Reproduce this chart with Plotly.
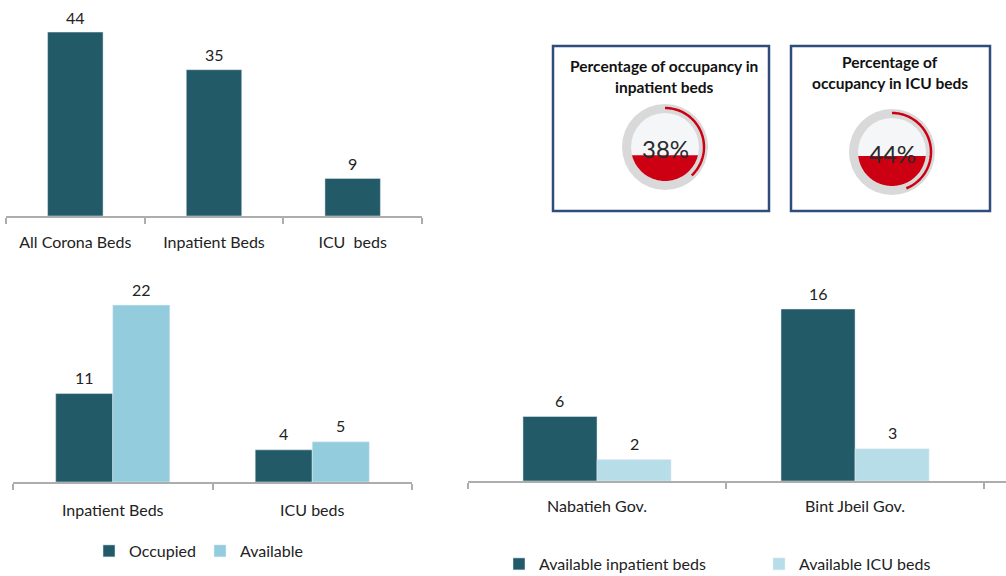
import numpy as np
import plotly.graph_objects as go

# ---------------- data ----------------
top_categories = ["All Corona Beds", "Inpatient Beds", "ICU  beds"]
top_values = [44, 35, 9]

occ_categories = ["Inpatient Beds", "ICU beds"]
occupied = [11, 4]
available = [22, 5]

gov_categories = ["Nabatieh Gov.", "Bint Jbeil Gov."]
avail_inpatient = [6, 16]
avail_icu = [2, 3]

gauge_titles = [["Percentage of occupancy in", "inpatient beds"],
                ["Percentage of", "occupancy in ICU beds"]]
gauge_pct = [38, 44]

# ---------------- style ----------------
W, H = 1006, 576
DARK = "#235A68"
LIGHT = "#93CDDD"
LIGHTER = "#B7DEE8"
RED = "#CC0012"
AXIS = "#ADADAD"
FONT = "Lato, Carlito, Calibri, sans-serif"
TXT = "#222222"
FS = 16

fig = go.Figure()

def px_x(x):
    return x / W

def px_y(y):
    return 1 - y / H

# top-left bars
fig.add_trace(go.Bar(x=top_categories, y=top_values, marker_color=DARK,
                     width=0.4, showlegend=False, xaxis="x", yaxis="y",
                     hoverinfo="x+y"))
for c, v in zip(top_categories, top_values):
    fig.add_annotation(x=c, y=v, xref="x", yref="y", text=str(v), showarrow=False,
                       xanchor="center", yanchor="middle", yshift=15,
                       font=dict(size=FS, color=TXT, family=FONT))

# bottom-left grouped bars
bw = 0.286
fig.add_trace(go.Bar(x=occ_categories, y=occupied, name="Occupied", marker_color=DARK,
                     width=bw, offset=-bw, xaxis="x2", yaxis="y2", legend="legend"))
fig.add_trace(go.Bar(x=occ_categories, y=available, name="Available", marker_color=LIGHT,
                     width=bw, offset=0, xaxis="x2", yaxis="y2", legend="legend"))
for i, c in enumerate(occ_categories):
    fig.add_annotation(x=i - bw / 2, y=occupied[i], xref="x2", yref="y2", text=str(occupied[i]),
                       showarrow=False, xanchor="center", yanchor="middle", yshift=16,
                       font=dict(size=FS, color=TXT, family=FONT))
    fig.add_annotation(x=i + bw / 2, y=available[i], xref="x2", yref="y2", text=str(available[i]),
                       showarrow=False, xanchor="center", yanchor="middle", yshift=16,
                       font=dict(size=FS, color=TXT, family=FONT))

# bottom-right grouped bars
bw2 = 0.287
fig.add_trace(go.Bar(x=gov_categories, y=avail_inpatient, name="Available inpatient beds",
                     marker_color=DARK, width=bw2, offset=-bw2, xaxis="x3", yaxis="y3",
                     legend="legend2"))
fig.add_trace(go.Bar(x=gov_categories, y=avail_icu, name="Available ICU beds",
                     marker_color=LIGHTER, width=bw2, offset=0, xaxis="x3", yaxis="y3",
                     legend="legend2"))
for i, c in enumerate(gov_categories):
    fig.add_annotation(x=i - bw2 / 2, y=avail_inpatient[i], xref="x3", yref="y3",
                       text=str(avail_inpatient[i]), showarrow=False, xanchor="center",
                       yanchor="middle", yshift=16, font=dict(size=FS, color=TXT, family=FONT))
    fig.add_annotation(x=i + bw2 / 2, y=avail_icu[i], xref="x3", yref="y3",
                       text=str(avail_icu[i]), showarrow=False, xanchor="center",
                       yanchor="middle", yshift=16, font=dict(size=FS, color=TXT, family=FONT))

xcommon = dict(type="category", showline=True, linecolor=AXIS, linewidth=1.5,
               ticks="outside", ticklen=6, tickcolor=AXIS, tickwidth=1.5,
               tickson="boundaries", showgrid=False, zeroline=False,
               tickfont=dict(size=FS, color=TXT, family=FONT), fixedrange=True)
ycommon = dict(visible=False, showgrid=False, zeroline=False, fixedrange=True)

fig.update_layout(
    xaxis=dict(xcommon, domain=[px_x(6), px_x(422)], range=[-0.5, 2.5], anchor="y",
               ticklabelstandoff=11),
    yaxis=dict(ycommon, domain=[px_y(216), px_y(7)], range=[0, 50], anchor="x"),
    xaxis2=dict(xcommon, domain=[px_x(13), px_x(412)], range=[-0.5, 1.5], anchor="y2",
                ticklabelstandoff=13),
    yaxis2=dict(ycommon, domain=[px_y(482), px_y(281)], range=[0, 25], anchor="x2"),
    xaxis3=dict(xcommon, domain=[px_x(468), 1.0], range=[-0.5, 1.585], anchor="y3",
                ticklabelstandoff=10),
    yaxis3=dict(ycommon, domain=[px_y(481), px_y(287.5)], range=[0, 18], anchor="x3"),
)

# ---------------- gauge cards (pixel positions converted to paper) ----------------
cards = [dict(x0=553, x1=769, y0=46, y1=211, cx=665, cy=147, tx=664, ty=[66, 87]),
         dict(x0=791, x1=990, y0=46, y1=211, cx=892, cy=152, tx=890, ty=[62, 83])]
R_OUT, R_IN, R_ARC = 43, 34, 39
shapes = []

def P(x, y):
    return px_x(x), px_y(y)

for card, titles, pct in zip(cards, gauge_titles, gauge_pct):
    x0, y0 = P(card["x0"], card["y0"])
    x1, y1 = P(card["x1"], card["y1"])
    shapes.append(dict(type="rect", xref="paper", yref="paper", x0=x0, x1=x1, y0=y0, y1=y1,
                       line=dict(color="#2E4C7C", width=2.5), fillcolor="rgba(0,0,0,0)"))
    cx, cy = card["cx"], card["cy"]
    for r, col in ((R_OUT, "#D9D9D9"), (R_IN, "#F4F6F8")):
        a, b = P(cx - r, cy - r)
        c, d = P(cx + r, cy + r)
        shapes.append(dict(type="circle", xref="paper", yref="paper", x0=a, x1=c, y0=d, y1=b,
                           line=dict(width=0), fillcolor=col))
    # liquid fill: circle segment below the level
    level = cy + R_IN - 2 * R_IN * pct / 100.0
    a0 = np.arcsin(np.clip((level - cy) / R_IN, -1, 1))
    angs = np.linspace(a0, np.pi - a0, 80)
    pts = [P(cx + R_IN * np.cos(a), cy + R_IN * np.sin(a)) for a in angs]
    path = "M " + " L ".join(f"{x:.5f},{y:.5f}" for x, y in pts) + " Z"
    shapes.append(dict(type="path", xref="paper", yref="paper", path=path, line=dict(width=0),
                       fillcolor=RED))
    # progress arc from 12 o'clock clockwise
    th = np.linspace(0, 2 * np.pi * pct / 100.0, 80)
    apts = [P(cx + R_ARC * np.sin(t), cy - R_ARC * np.cos(t)) for t in th]
    apath = "M " + " L ".join(f"{x:.5f},{y:.5f}" for x, y in apts)
    shapes.append(dict(type="path", xref="paper", yref="paper", path=apath,
                       line=dict(color=RED, width=2.5), fillcolor="rgba(0,0,0,0)"))
    for line_text, ty in zip(titles, card["ty"]):
        ax, ay = P(card["tx"], ty)
        fig.add_annotation(x=ax, y=ay, xref="paper", yref="paper", text=f"<b>{line_text}</b>",
                           showarrow=False, xanchor="center", yanchor="middle",
                           font=dict(size=15.5, color="#111111", family=FONT))
    ax, ay = P(cx, cy + 1)
    fig.add_annotation(x=ax, y=ay, xref="paper", yref="paper", text=f"{pct}%", showarrow=False,
                       xanchor="center", yanchor="middle",
                       font=dict(size=24, color="#2A2A2A", family=FONT))

fig.update_layout(
    shapes=shapes,
    width=W, height=H, autosize=False,
    margin=dict(l=0, r=0, t=0, b=0, autoexpand=False),
    paper_bgcolor="white", plot_bgcolor="rgba(0,0,0,0)",
    barmode="overlay",
    font=dict(family=FONT, color=TXT, size=FS),
    legend=dict(orientation="h", x=px_x(89), y=px_y(551), xanchor="left", yanchor="middle",
                font=dict(size=FS, color=TXT, family=FONT), entrywidth=66,
                entrywidthmode="pixels", itemclick=False, itemdoubleclick=False,
                bgcolor="rgba(0,0,0,0)"),
    legend2=dict(orientation="h", x=px_x(499), y=px_y(564), xanchor="left", yanchor="middle",
                 font=dict(size=FS, color=TXT, family=FONT), entrywidth=215,
                 entrywidthmode="pixels", itemclick=False, itemdoubleclick=False,
                 bgcolor="rgba(0,0,0,0)"),
    hovermode="closest",
)

post = ("document.documentElement.style.margin='0';document.body.style.margin='0';"
        "document.body.style.padding='0';document.documentElement.style.overflow='hidden';"
        "document.body.style.overflow='hidden';"
        "var gd=document.getElementById('{plot_id}');"
        "Plotly.relayout(gd,{width:1006,height:576});")

fig.write_html("out.html", post_script=post, config={"displayModeBar": False})
